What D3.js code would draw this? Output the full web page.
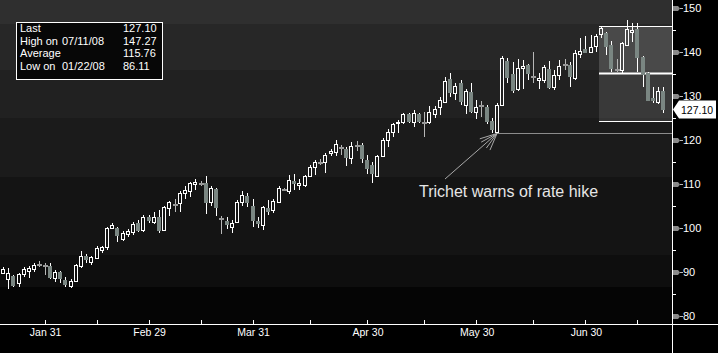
<!DOCTYPE html>
<html>
<head>
<meta charset="utf-8">
<script src="https://cdn.jsdelivr.net/npm/d3@7"></script>
<style>
  body { margin: 0; background: #000; }
  svg { display: block; font-family: "Liberation Sans", Arial, sans-serif; }
</style>
</head>
<body>
<div id="main"></div>
<script>
// trading days, Jan 18 - Jul 22 2008
const dates = [
  "01/18","01/22","01/23","01/24","01/25","01/28","01/29","01/30","01/31",
  "02/01","02/04","02/05","02/06","02/07","02/08","02/11","02/12","02/13","02/14","02/15",
  "02/19","02/20","02/21","02/22","02/25","02/26","02/27","02/28","02/29",
  "03/03","03/04","03/05","03/06","03/07","03/10","03/11","03/12","03/13","03/14",
  "03/17","03/18","03/19","03/20","03/24","03/25","03/26","03/27","03/28","03/31",
  "04/01","04/02","04/03","04/04","04/07","04/08","04/09","04/10","04/11",
  "04/14","04/15","04/16","04/17","04/18","04/21","04/22","04/23","04/24","04/25",
  "04/28","04/29","04/30",
  "05/01","05/02","05/05","05/06","05/07","05/08","05/09","05/12","05/13","05/14","05/15","05/16",
  "05/19","05/20","05/21","05/22","05/23","05/27","05/28","05/29","05/30",
  "06/02","06/03","06/04","06/05","06/06","06/09","06/10","06/11","06/12","06/13",
  "06/16","06/17","06/18","06/19","06/20","06/23","06/24","06/25","06/26","06/27","06/30",
  "07/01","07/02","07/03","07/07","07/08","07/09","07/10","07/11",
  "07/14","07/15","07/16","07/17","07/18","07/21","07/22"
];

const opens = [
  89.7,88.3,89.1,87.4,89.5,90.3,90.7,91.8,91.6,91.4,88.6,90.0,88.2,86.9,88.0,91.4,93.7,92.3,93.1,95.0,
  95.6,99.9,100.1,97.4,98.6,99.2,101.2,99.6,102.6,101.4,102.4,99.6,104.5,105.5,105.6,107.9,108.5,109.9,110.3,110.2,
  105.8,108.8,102.2,101.7,100.2,101.4,105.8,107.3,105.0,101.6,100.7,104.5,104.1,106.0,108.8,108.5,110.7,109.7,109.8,111.8,
  113.9,115.1,114.9,117.0,117.3,118.5,117.9,115.8,118.9,118.9,115.5,114.3,111.8,116.4,119.9,121.9,123.8,124.2,125.9,124.2,
  125.9,124.0,124.2,125.9,127.4,128.7,133.8,130.6,133.0,127.9,131.0,126.4,127.9,127.6,124.4,121.9,127.9,138.0,135.0,131.5,
  136.4,137.0,134.5,133.6,133.6,136.1,132.0,134.8,137.3,137.0,134.2,139.5,140.6,140.1,141.4,144.2,144.4,141.6,136.1,135.8,
  141.6,144.6,145.2,138.9,135.3,129.6,128.7,131.2
];
const highs = [
  91.2,90.8,89.3,89.7,91.2,91.4,92.1,92.6,92.1,92.0,90.5,90.2,88.8,88.3,91.8,94.8,94.2,93.6,95.8,95.9,
  100.2,101.2,100.2,99.4,99.7,101.4,101.8,102.96,103.0,103.7,104.1,105.0,106.2,106.7,108.3,109.5,110.5,111.1,110.7,111.9,
  109.5,109.0,102.7,102.6,101.8,106.4,108.3,107.9,106.7,102.6,105.0,106.4,106.5,109.5,109.2,112.0,112.3,111.1,112.0,114.3,
  115.5,115.6,117.0,117.9,120.0,118.9,118.5,119.6,119.8,119.4,116.6,115.1,116.6,120.4,122.6,123.9,124.5,126.2,126.2,126.8,
  126.2,126.4,127.7,127.7,129.7,134.4,135.3,133.0,133.6,131.7,133.0,129.1,128.9,127.9,124.9,128.3,139.1,138.6,137.8,138.3,
  138.2,137.3,140.1,135.3,137.0,138.0,135.9,138.2,138.3,137.8,140.5,143.1,143.6,143.9,144.2,145.8,144.6,142.6,138.3,142.3,
  147.27,146.7,146.7,139.1,135.5,132.0,132.0,132.0
];
const lows = [
  89.5,86.11,86.5,86.7,88.9,88.6,90.1,91.1,89.3,88.3,87.8,87.4,86.5,86.3,87.8,90.8,92.0,91.6,92.9,94.4,
  95.0,99.7,96.8,97.0,97.9,98.4,99.2,99.2,101.2,100.9,98.8,99.4,102.7,103.7,103.7,106.5,107.1,108.6,109.5,103.1,
  105.0,102.7,98.6,99.7,98.9,101.2,104.9,104.7,100.3,99.9,99.5,103.0,103.3,105.8,108.3,107.7,108.6,108.6,109.4,111.5,
  112.0,114.3,112.6,116.4,116.4,116.6,114.2,114.5,117.4,114.7,112.3,110.2,111.5,116.1,118.5,120.6,121.5,123.6,123.9,123.0,
  123.9,120.6,123.6,124.9,125.7,128.5,129.7,129.2,128.0,125.8,126.1,124.7,125.3,123.6,121.7,121.6,127.7,133.0,130.7,131.2,
  131.5,133.6,132.9,131.7,133.0,131.7,131.4,133.6,135.9,132.0,133.6,138.6,139.7,139.7,139.9,143.1,139.3,135.5,135.5,135.3,
  141.4,142.3,135.5,132.1,129.1,128.3,128.2,126.2
];
const closes = [
  90.6,89.8,87.0,89.5,90.7,91.0,91.6,91.8,91.6,88.9,90.1,88.6,87.2,88.0,91.6,93.6,92.9,93.3,95.4,95.6,
  99.9,100.7,98.3,98.9,99.4,100.9,99.6,102.6,101.8,102.4,99.6,104.7,105.8,105.5,107.9,108.6,110.2,110.5,110.3,105.8,
  109.0,104.7,102.2,100.9,101.2,106.0,107.5,105.8,101.8,101.1,104.7,103.9,106.1,109.0,108.8,110.9,110.2,110.3,111.8,113.9,
  115.1,115.1,116.6,117.5,119.2,118.5,116.2,118.6,118.9,115.8,113.6,112.6,116.4,120.0,121.9,123.6,124.2,125.9,124.4,126.1,
  124.4,124.0,126.4,127.0,129.2,133.3,131.0,132.3,128.9,131.2,126.6,127.6,127.9,124.4,122.4,127.9,138.6,134.4,131.4,136.3,
  136.8,135.2,134.5,134.0,136.7,132.1,134.8,136.8,137.3,134.5,139.8,140.2,140.1,141.1,143.6,145.4,141.4,136.3,136.1,142.0,
  145.2,145.1,138.9,135.0,129.2,129.0,131.2,127.1
];

const majorTicks = ["01/31", "02/29", "03/31", "04/30", "05/30", "06/30"];
const majorLabels = ["Jan 31", "Feb 29", "Mar 31", "Apr 30", "May 30", "Jun 30"];
const minorTicks = ["02/14", "03/14", "04/15", "05/15", "06/16", "07/15"];
const priceTicks = [80, 90, 100, 110, 120, 130, 140, 150];
const priceMinor = [85, 95, 105, 115, 125, 135, 145];

// background shading bands (price ranges)
const bandEdges = [151.8, 146.4, 135.9, 125.0, 111.6, 93.9, 86.6, 78.2];
const bandColors = ["#2f2f2f", "#272727", "#212121", "#1b1b1b", "#141414", "#0e0e0e", "#050505"];

const statLabels = ["Last", "High on", "Average", "Low on"];
const statDates = ["", "07/11/08", "", "01/22/08"];
const statValues = ["127.10", "147.27", "115.76", "86.11"];

const lastPrice = 127.10;
const boxLevels = [145.9, 135.2, 124.3];
const boxStart = "07/03";
const trichetDate = "06/05";
const trichetLevel = 121.6;
const note = "Trichet warns of rate hike";

const width = 718;
const height = 353;
const plotRight = 672;
const plotBottom = 324;

const svg = d3.select("#main")
  .append("svg")
  .attr("width", width)
  .attr("height", height);

svg.append("rect")
  .attr("width", width)
  .attr("height", height)
  .attr("fill", "#000");

const x = d3.scalePoint().domain(dates).range([3, 663.4]);
const y = d3.scaleLinear().domain([80, 150]).range([316, 8]);

// bands
svg.append("g")
  .selectAll("rect")
  .data(bandColors)
  .join("rect")
  .attr("x", 0)
  .attr("width", plotRight)
  .attr("y", (d, i) => Math.round(Math.max(0, y(bandEdges[i]))))
  .attr("height", (d, i) => Math.round(y(bandEdges[i + 1])) - Math.round(Math.max(0, y(bandEdges[i]))))
  .attr("fill", d => d);

// shaded range box
const bx = Math.round(x(boxStart)) - 2;
const box = svg.append("g");
box.append("rect")
  .attr("x", bx).attr("width", plotRight - bx)
  .attr("y", Math.round(y(boxLevels[0]))).attr("height", Math.round(y(boxLevels[1])) - Math.round(y(boxLevels[0])))
  .attr("fill", "#fff").attr("opacity", 0.16);
box.append("rect")
  .attr("x", bx).attr("width", plotRight - bx)
  .attr("y", Math.round(y(boxLevels[1]))).attr("height", Math.round(y(boxLevels[2])) - Math.round(y(boxLevels[1])))
  .attr("fill", "#fff").attr("opacity", 0.11);
box.selectAll("line")
  .data(boxLevels)
  .join("line")
  .attr("x1", bx).attr("x2", plotRight)
  .attr("y1", d => Math.round(y(d)) + 0.5)
  .attr("y2", d => Math.round(y(d)) + 0.5)
  .attr("stroke", "#fff")
  .attr("stroke-width", (d, i) => i === 1 ? 2 : 1.2);

// trichet level line
const tx = Math.round(x(trichetDate));
const ty = Math.round(y(trichetLevel)) + 0.5;
svg.append("line")
  .attr("x1", tx).attr("x2", plotRight)
  .attr("y1", ty).attr("y2", ty)
  .attr("stroke", "#8c8c8c");

// candles
const candles = dates.map((d, i) => ({ date: d, o: opens[i], h: highs[i], l: lows[i], c: closes[i] }));
const cg = svg.append("g");
candles.forEach(d => {
  const n = Math.round(x(d.date));
  const cx = n + 0.5;
  const top = Math.round(y(Math.max(d.o, d.c)));
  const bot = Math.round(y(Math.min(d.o, d.c)));
  const hi = Math.round(y(d.h));
  const lo = Math.round(y(d.l));
  const doji = Math.abs(d.o - d.c) < 0.15;
  const up = d.c > d.o;
  const wickColor = doji ? "#b8b8b8" : "#fff";
  cg.append("line").attr("x1", cx).attr("x2", cx).attr("y1", hi).attr("y2", top).attr("stroke", wickColor);
  cg.append("line").attr("x1", cx).attr("x2", cx).attr("y1", bot + 1).attr("y2", lo).attr("stroke", wickColor);
  if (doji) {
    cg.append("rect").attr("x", n - 2).attr("y", top).attr("width", 5).attr("height", 2).attr("fill", "#9a9a9a");
  } else if (up) {
    cg.append("rect")
      .attr("x", n - 1.5).attr("y", top + 0.5)
      .attr("width", 3).attr("height", Math.max(bot - top, 1))
      .attr("fill", "none").attr("stroke", "#fff");
  } else {
    cg.append("rect")
      .attr("x", n - 2).attr("y", top)
      .attr("width", 4).attr("height", Math.max(bot - top, 1) + 1)
      .attr("fill", "#7a8682");
  }
});

// arrow + note
const ax0 = 445, ay0 = 179;
const ang = Math.atan2(ty - ay0, tx - ax0);
const arrow = svg.append("g").attr("stroke", "#a8a8a8");
arrow.append("line").attr("x1", ax0).attr("y1", ay0).attr("x2", tx).attr("y2", ty);
[-0.45, -0.22, 0.22, 0.42].forEach(a => {
  arrow.append("line")
    .attr("x1", tx).attr("y1", ty)
    .attr("x2", tx - 18 * Math.cos(ang + a))
    .attr("y2", ty - 18 * Math.sin(ang + a));
});
svg.append("text")
  .attr("x", 419).attr("y", 197)
  .attr("fill", "#e6e6e6")
  .attr("font-size", 16)
  .text(note);

// axes lines
svg.append("line")
  .attr("x1", 0).attr("x2", width)
  .attr("y1", plotBottom + 0.5).attr("y2", plotBottom + 0.5)
  .attr("stroke", "#fff");
svg.append("line")
  .attr("x1", plotRight + 0.5).attr("x2", plotRight + 0.5)
  .attr("y1", 0).attr("y2", height)
  .attr("stroke", "#fff");

// x ticks
svg.append("g")
  .selectAll("line")
  .data(majorTicks.concat(minorTicks))
  .join("line")
  .attr("x1", d => Math.round(x(d)) + 0.5)
  .attr("x2", d => Math.round(x(d)) + 0.5)
  .attr("y1", plotBottom - 4).attr("y2", plotBottom)
  .attr("stroke", "#fff");
svg.append("g")
  .selectAll("text")
  .data(majorTicks)
  .join("text")
  .attr("x", d => x(d) + 1)
  .attr("y", 336)
  .attr("text-anchor", "middle")
  .attr("fill", "#fff")
  .attr("font-size", 10.5)
  .text((d, i) => majorLabels[i]);

// y ticks on right
const yAxis = svg.append("g");
yAxis.selectAll("path")
  .data(priceTicks)
  .join("path")
  .attr("d", d => {
    const yy = Math.round(y(d)) + 0.5;
    return `M673,${yy - 2.5}L678,${yy - 2.5}L680,${yy}L678,${yy + 2.5}L673,${yy + 2.5}Z`;
  })
  .attr("fill", "#8a8a8a");
yAxis.selectAll("line.dash")
  .data(priceTicks)
  .join("line")
  .attr("class", "dash")
  .attr("x1", 680).attr("x2", 683)
  .attr("y1", d => Math.round(y(d)) + 0.5)
  .attr("y2", d => Math.round(y(d)) + 0.5)
  .attr("stroke", "#bbb");
yAxis.selectAll("line.minor")
  .data(priceMinor)
  .join("line")
  .attr("class", "minor")
  .attr("x1", plotRight).attr("x2", plotRight + 4)
  .attr("y1", d => Math.round(y(d)) + 0.5)
  .attr("y2", d => Math.round(y(d)) + 0.5)
  .attr("stroke", "#fff");
yAxis.selectAll("text")
  .data(priceTicks)
  .join("text")
  .attr("x", 683)
  .attr("y", d => y(d) + 4)
  .attr("fill", "#fff")
  .attr("font-size", 11)
  .text(d => d);

// last price flag
const ly = Math.round(y(lastPrice)) + 0.5;
svg.append("path")
  .attr("d", `M673,${ly}L679,${ly - 9}L716,${ly - 9}L716,${ly + 9}L679,${ly + 9}Z`)
  .attr("fill", "#fff");
svg.append("text")
  .attr("x", 681).attr("y", ly + 4)
  .attr("fill", "#000")
  .attr("font-size", 10.5)
  .text(lastPrice.toFixed(2));

// stats box
const stats = svg.append("g");
stats.append("rect")
  .attr("x", 16.5).attr("y", 22.5)
  .attr("width", 146).attr("height", 57)
  .attr("fill", "#070707")
  .attr("stroke", "#fff");
const rowY = d3.scaleLinear().domain([0, 3]).range([32, 70]);
stats.selectAll("text.lab")
  .data(statLabels)
  .join("text")
  .attr("class", "lab")
  .attr("x", 20).attr("y", (d, i) => rowY(i))
  .attr("fill", "#fff").attr("font-size", 11)
  .text(d => d);
stats.selectAll("text.dt")
  .data(statDates)
  .join("text")
  .attr("class", "dt")
  .attr("x", 62).attr("y", (d, i) => rowY(i))
  .attr("fill", "#fff").attr("font-size", 11)
  .text(d => d);
stats.selectAll("text.val")
  .data(statValues)
  .join("text")
  .attr("class", "val")
  .attr("x", 123).attr("y", (d, i) => rowY(i))
  .attr("fill", "#fff").attr("font-size", 11)
  .text(d => d);
</script>
</body>
</html>
